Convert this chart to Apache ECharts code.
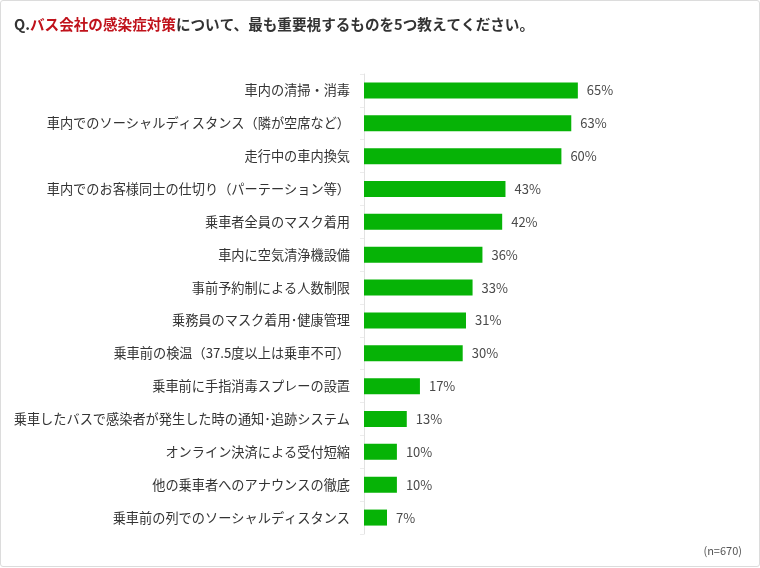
<!DOCTYPE html>
<html>
<head>
<meta charset="utf-8">
<script src="https://cdn.jsdelivr.net/npm/echarts@6/dist/echarts.min.js"></script>
<style>
html,body{margin:0;padding:0;background:#fff;}
#wrap{position:absolute;left:0;top:0;width:758px;height:565px;border:1px solid #dcdcdc;border-radius:3px;}
#chart{width:760px;height:568px;position:absolute;left:0;top:0;}
</style>
</head>
<body>
<div id="wrap"></div>
<div id="chart"></div>
<script>
// 項目（上から順）
var items = [
    '車内の清掃・消毒',
    '車内でのソーシャルディスタンス（隣が空席など）',
    '走行中の車内換気',
    '車内でのお客様同士の仕切り（パーテーション等）',
    '乗車者全員のマスク着用',
    '車内に空気清浄機設備',
    '事前予約制による人数制限',
    '乗務員のマスク着用･健康管理',
    '乗車前の検温（37.5度以上は乗車不可）',
    '乗車前に手指消毒スプレーの設置',
    '乗車したバスで感染者が発生した時の通知･追跡システム',
    'オンライン決済による受付短縮',
    '他の乗車者へのアナウンスの徹底',
    '乗車前の列でのソーシャルディスタンス'
];
var percents = [65, 63, 60, 43, 42, 36, 33, 31, 30, 17, 13, 10, 10, 7];
var sampleNote = '(n=670)';

var font = '"Noto Sans CJK JP", "Noto Sans", sans-serif';
var myChart = echarts.init(document.getElementById('chart'));
var option = {
    animation: false,
    title: {
        text: '{a|Q.}{b|バス会社の感染症対策}{a|について、最も重要視するものを5つ教えてください。}',
        left: 9,
        top: 12,
        textStyle: {
            rich: {
                a: {color: '#333', fontSize: 14.6, fontWeight: 'bold', fontFamily: font},
                b: {color: '#c0121b', fontSize: 14.6, fontWeight: 'bold', fontFamily: font}
            }
        }
    },
    graphic: [{
        type: 'text',
        right: 18,
        top: 545,
        style: {text: sampleNote, fill: '#555', fontSize: 11, fontFamily: font}
    }],
    grid: {
        left: 364,
        top: 74,
        width: 329,
        height: 460
    },
    xAxis: {
        type: 'value',
        min: 0,
        max: 100,
        show: false
    },
    yAxis: {
        type: 'category',
        inverse: true,
        data: items,
        axisLine: {show: true, lineStyle: {color: '#e2e2e2'}},
        axisTick: {show: true, length: 4, lineStyle: {color: '#ececec'}},
        axisLabel: {color: '#333', fontSize: 13.2, margin: 14, fontFamily: font}
    },
    series: [{
        type: 'bar',
        data: percents,
        barWidth: 16,
        itemStyle: {color: '#06b306'},
        label: {
            show: true,
            position: 'right',
            distance: 9,
            formatter: '{c}%',
            color: '#4a4a4a',
            fontSize: 13,
            fontFamily: font
        }
    }]
};
myChart.setOption(option);
</script>
</body>
</html>
